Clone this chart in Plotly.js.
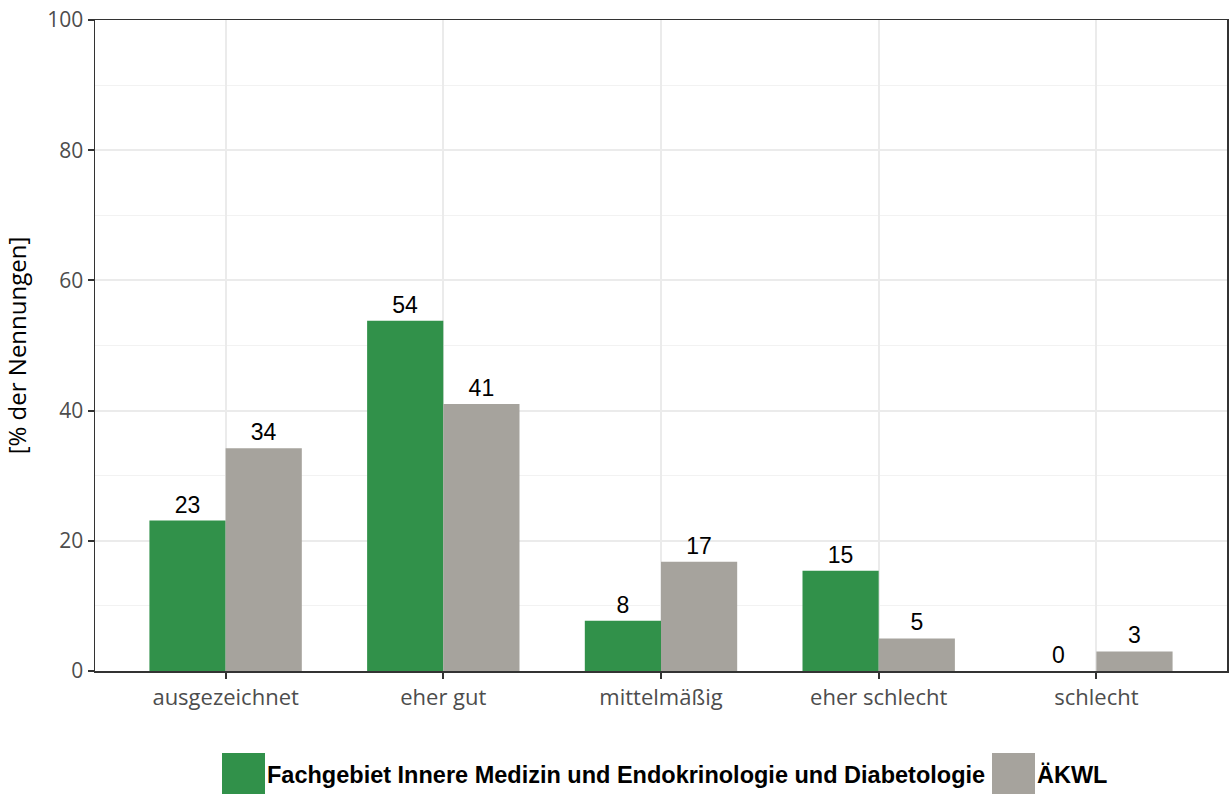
<!DOCTYPE html>
<html>
<head>
<meta charset="utf-8">
<script src="https://cdn.plot.ly/plotly-3.0.1.min.js"></script>
<style>html,body{margin:0;padding:0;background:#fff;}#chart{width:1231px;height:794px;}</style>
</head>
<body>
<div id="chart"></div>
<script>
const categories = ["ausgezeichnet", "eher gut", "mittelmäßig", "eher schlecht", "schlecht"];
const seriesNames = ["Fachgebiet Innere Medizin und Endokrinologie und Diabetologie", "ÄKWL"];
const fachgebiet = [23.1, 53.8, 7.7, 15.4, 0];
const aekwl = [34.2, 41.0, 16.8, 5.0, 3.0];
const yTicks = [0, 20, 40, 60, 80, 100];
const colors = ["#31914a", "#a6a39d"];

const idx = categories.map((c, i) => i);
function mkTrace(vals, name, color) {
  return {
    type: "bar", x: idx, y: vals, name: name,
    marker: {color: color, line: {width: 0}},
    text: vals.map(v => String(Math.round(v))),
    textposition: "outside", cliponaxis: false,
    textfont: {family: "Liberation Sans, Arial, sans-serif", size: 23, color: "#000"},
    hoverinfo: "x+y", showlegend: false
  };
}
const data = [mkTrace(fachgebiet, seriesNames[0], colors[0]), mkTrace(aekwl, seriesNames[1], colors[1])];

const xTickFont = {family: "Open Sans, sans-serif", size: 22, color: "#4d4d4d"};
const yTickFont = {family: "Open Sans, sans-serif", size: 21, color: "#4d4d4d"};
const layout = {
  width: 1231, height: 794,
  margin: {l: 95, r: 4, t: 20, b: 123},
  paper_bgcolor: "#fff", plot_bgcolor: "#fff",
  barmode: "group", bargap: 0.3, bargroupgap: 0,
  xaxis: {
    range: [-0.6, 4.6], tickmode: "array", tickvals: idx, ticktext: categories,
    showgrid: true, gridcolor: "#ebebeb", gridwidth: 2,
    ticks: "outside", ticklen: 6, tickwidth: 2, tickcolor: "#333",
    showline: true, linecolor: "#333", linewidth: 1.5, mirror: true,
    tickfont: xTickFont, zeroline: false, fixedrange: true
  },
  yaxis: {
    range: [0, 100], tickmode: "array", tickvals: yTicks,
    showgrid: true, gridcolor: "#ebebeb", gridwidth: 2,
    minor: {dtick: 10, tick0: 0, showgrid: true, gridcolor: "#f2f2f2", gridwidth: 1, ticks: ""},
    ticks: "outside", ticklen: 6, tickwidth: 2, tickcolor: "#333",
    showline: true, linecolor: "#333", linewidth: 1.5, mirror: true,
    tickfont: yTickFont, zeroline: false, fixedrange: true,
    title: {text: "[% der Nennungen]", font: {family: "Open Sans, sans-serif", size: 24, color: "#000"}, standoff: 14}
  },
  shapes: [
    {type: "rect", xref: "paper", yref: "paper", x0: (222-95)/1132, x1: (265-95)/1132, y0: (671-794)/651, y1: (671-753)/651, fillcolor: colors[0], line: {width: 0}},
    {type: "rect", xref: "paper", yref: "paper", x0: (992-95)/1132, x1: (1035-95)/1132, y0: (671-794)/651, y1: (671-753)/651, fillcolor: colors[1], line: {width: 0}}
  ],
  annotations: [
    {xref: "paper", yref: "paper", x: (265-95)/1132, y: (671-775)/651, xanchor: "left", yanchor: "middle", showarrow: false,
     text: "<b>" + seriesNames[0] + "</b>", font: {family: "Liberation Sans Narrow, Arial Narrow, sans-serif", size: 23.5, color: "#000"}},
    {xref: "paper", yref: "paper", x: (1035-95)/1132, y: (671-775)/651, xanchor: "left", yanchor: "middle", showarrow: false,
     text: "<b>" + seriesNames[1] + "</b>", font: {family: "Liberation Sans Narrow, Arial Narrow, sans-serif", size: 23.5, color: "#000"}}
  ]
};
Plotly.newPlot("chart", data, layout, {displayModeBar: false, staticPlot: true});
</script>
</body>
</html>
